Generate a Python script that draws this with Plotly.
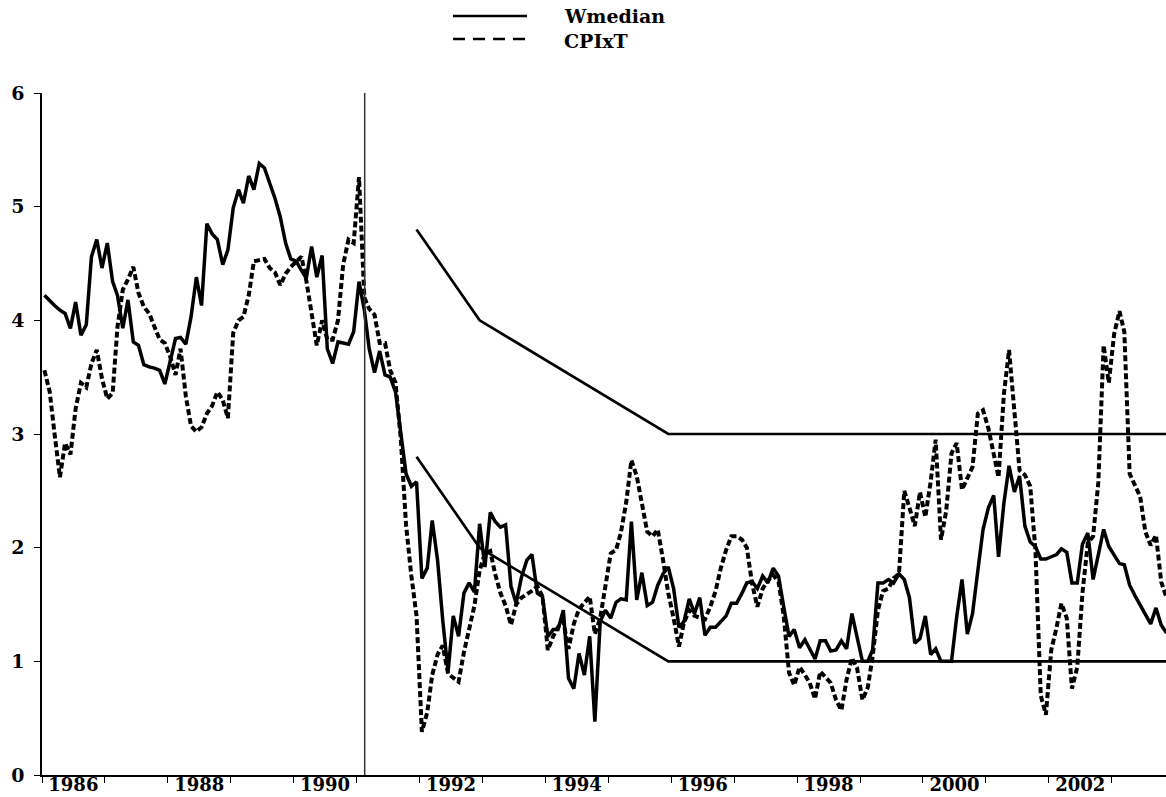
import plotly.graph_objects as go
import pandas as pd

# Monthly series, Jan 1986 onward
wmedian = [
    4.22, 4.17, 4.13, 4.09, 4.06, 3.93, 4.16, 3.87, 3.96, 4.56, 4.71, 4.46,
    4.68, 4.34, 4.22, 3.93, 4.18, 3.81, 3.78, 3.61, 3.59, 3.58, 3.56, 3.44,
    3.64, 3.84, 3.85, 3.79, 4.03, 4.38, 4.13, 4.85, 4.76, 4.71, 4.49, 4.62,
    4.99, 5.15, 5.03, 5.27, 5.15, 5.38, 5.34, 5.21, 5.07, 4.91, 4.68, 4.54,
    4.52, 4.44, 4.37, 4.65, 4.38, 4.57, 3.75, 3.62, 3.81, 3.80, 3.79, 3.90,
    4.34, 4.09, 3.75, 3.54, 3.73, 3.52, 3.50, 3.37, 3.00, 2.65, 2.54, 2.58,
    1.73, 1.82, 2.24, 1.89, 1.36, 0.91, 1.40, 1.22, 1.60, 1.69, 1.61, 2.21,
    1.83, 2.31, 2.23, 2.18, 2.20, 1.66, 1.51, 1.74, 1.89, 1.94, 1.60, 1.57,
    1.22, 1.28, 1.28, 1.45, 0.85, 0.76, 1.07, 0.88, 1.22, 0.47, 1.35, 1.45,
    1.38, 1.52, 1.55, 1.54, 2.23, 1.54, 1.78, 1.49, 1.52, 1.67, 1.77, 1.83,
    1.64, 1.30, 1.35, 1.55, 1.42, 1.56, 1.23, 1.30, 1.30, 1.35, 1.40, 1.51,
    1.51, 1.60, 1.69, 1.70, 1.64, 1.75, 1.69, 1.82, 1.75, 1.48, 1.22, 1.28,
    1.12, 1.19, 1.11, 1.02, 1.18, 1.18, 1.09, 1.10, 1.18, 1.11, 1.42, 1.20,
    1.00, 1.00, 1.10, 1.69, 1.69, 1.72, 1.69, 1.77, 1.72, 1.56, 1.16, 1.20,
    1.40, 1.06, 1.11, 1.00, 1.00, 1.00, 1.39, 1.72, 1.24, 1.42, 1.80, 2.16,
    2.35, 2.46, 1.92, 2.39, 2.72, 2.49, 2.63, 2.19, 2.05, 2.01, 1.90, 1.90,
    1.92, 1.94, 1.99, 1.96, 1.69, 1.69, 2.03, 2.13, 1.72, 1.93, 2.16, 2.01,
    1.94, 1.86, 1.85, 1.67, 1.58, 1.50, 1.41, 1.33, 1.47, 1.32, 1.25,
]

cpixt = [
    3.56, 3.37, 3.00, 2.62, 2.92, 2.82, 3.22, 3.45, 3.41, 3.62, 3.74, 3.49,
    3.31, 3.36, 3.94, 4.27, 4.36, 4.47, 4.24, 4.12, 4.06, 3.95, 3.83, 3.80,
    3.68, 3.52, 3.75, 3.33, 3.07, 3.02, 3.06, 3.18, 3.25, 3.37, 3.30, 3.14,
    3.89, 4.00, 4.03, 4.22, 4.52, 4.53, 4.54, 4.46, 4.42, 4.31, 4.41, 4.47,
    4.52, 4.56, 4.35, 4.06, 3.78, 4.00, 3.83, 3.83, 4.00, 4.49, 4.71, 4.68,
    5.26, 4.20, 4.10, 4.05, 3.80, 3.80, 3.56, 3.45, 2.95, 2.20, 1.75, 1.40,
    0.38, 0.55, 0.88, 1.06, 1.14, 0.89, 0.86, 0.82, 1.08, 1.30, 1.49, 1.80,
    1.95, 1.97, 1.77, 1.60, 1.49, 1.32, 1.50, 1.56, 1.59, 1.62, 1.66, 1.57,
    1.10, 1.22, 1.30, 1.35, 1.11, 1.33, 1.46, 1.51, 1.57, 1.24, 1.38, 1.66,
    1.95, 1.98, 2.13, 2.40, 2.77, 2.63, 2.40, 2.14, 2.10, 2.16, 1.89, 1.60,
    1.38, 1.13, 1.34, 1.45, 1.40, 1.38, 1.37, 1.48, 1.62, 1.82, 1.98, 2.10,
    2.10, 2.07, 2.00, 1.68, 1.48, 1.64, 1.71, 1.76, 1.70, 1.40, 0.90, 0.79,
    0.95, 0.88, 0.81, 0.67, 0.91, 0.86, 0.81, 0.66, 0.57, 0.84, 1.03, 0.94,
    0.66, 0.77, 1.04, 1.45, 1.62, 1.64, 1.73, 1.77, 2.50, 2.35, 2.19, 2.49,
    2.27, 2.58, 2.95, 2.07, 2.32, 2.83, 2.92, 2.51, 2.62, 2.71, 3.18, 3.21,
    3.05, 2.80, 2.62, 3.35, 3.74, 3.20, 2.68, 2.64, 2.54, 1.98, 0.70, 0.53,
    1.10, 1.30, 1.51, 1.38, 0.76, 0.95, 1.60, 2.04, 2.10, 2.57, 3.78, 3.45,
    3.88, 4.08, 3.90, 2.65, 2.56, 2.45, 2.14, 2.02, 2.11, 1.70, 1.56,
]

first_month = "1986-01-01"
dates = pd.date_range(first_month, periods=len(wmedian), freq="MS") + pd.Timedelta(days=14)

# Inflation-control target band
band_dates = ["1991-12-15", "1992-12-15", "1995-12-15", "2003-11-15"]
band_upper = [4.8, 4.0, 3.0, 3.0]
band_lower = [2.8, 2.0, 1.0, 1.0]

intro_date = "1991-02-17"

year_labels = ["1986", "1988", "1990", "1992", "1994", "1996", "1998", "2000", "2002"]
year_label_pos = [f"{y}-07-02" for y in year_labels]
y_ticks = [0, 1, 2, 3, 4, 5, 6]

X_RANGE = ["1986-01-01", "2003-11-12"]
FONT = "DejaVu Serif"

fig = go.Figure()
fig.add_trace(go.Scatter(x=band_dates, y=band_upper, mode="lines", xaxis="x2",
                         line=dict(color="black", width=2.7), showlegend=False, hoverinfo="skip"))
fig.add_trace(go.Scatter(x=band_dates, y=band_lower, mode="lines", xaxis="x2",
                         line=dict(color="black", width=2.7), showlegend=False, hoverinfo="skip"))
fig.add_trace(go.Scatter(x=dates, y=cpixt, mode="lines", name="CPIxT",
                         line=dict(color="black", width=4, dash="6px,3px")))
fig.add_trace(go.Scatter(x=dates, y=wmedian, mode="lines", name="Wmedian",
                         line=dict(color="black", width=3.5)))

fig.add_shape(type="line", xref="x", yref="paper", x0=intro_date, x1=intro_date,
              y0=0, y1=1, line=dict(color="#333333", width=1.5))

# legend drawn manually (long sample lines as in the original)
def py(Y):
    return (775 - Y) / 682.0

def px(X):
    return (X - 42) / 1124.0

fig.add_shape(type="line", xref="paper", yref="paper", x0=px(453), x1=px(527),
              y0=py(16), y1=py(16), line=dict(color="black", width=2.5))
fig.add_shape(type="line", xref="paper", yref="paper", x0=px(453), x1=px(527),
              y0=py(39), y1=py(39), line=dict(color="black", width=2.5, dash="12px,8px"))
fig.add_annotation(text="Wmedian", xref="paper", yref="paper", x=px(562), y=py(16),
                   xanchor="left", yanchor="middle", showarrow=False,
                   font=dict(family=FONT, size=19, color="black", weight="bold"))
fig.add_annotation(text="CPIxT", xref="paper", yref="paper", x=px(562), y=py(41),
                   xanchor="left", yanchor="middle", showarrow=False,
                   font=dict(family=FONT, size=19, color="black", weight="bold"))

fig.update_layout(
    width=1166, height=797,
    margin=dict(l=42, r=0, t=93, b=22, autoexpand=False),
    plot_bgcolor="white", paper_bgcolor="white",
    showlegend=False,
    xaxis=dict(
        type="date", range=X_RANGE, automargin=False,
        showline=True, linecolor="black", linewidth=1.5,
        dtick="M12", tick0="1986-01-01", ticks="outside", ticklen=6, tickwidth=1,
        tickcolor="black", showticklabels=False,
        showgrid=False, zeroline=False,
    ),
    xaxis2=dict(
        type="date", range=X_RANGE, automargin=False, overlaying="x",
        anchor="free", position=0.005, side="bottom", showline=False,
        tickvals=year_label_pos, ticktext=year_labels, ticks="",
        tickfont=dict(family=FONT, size=18, color="black", weight="bold"),
        showgrid=False, zeroline=False,
    ),
    yaxis=dict(
        range=[0, 6], tickvals=y_ticks, ticks="outside", ticklen=6, tickwidth=1,
        automargin=False,
        tickcolor="black", showline=True, linecolor="black", linewidth=1.5,
        tickfont=dict(family=FONT, size=19, color="black", weight="bold"),
        showgrid=False, zeroline=False, ticklabelstandoff=6,
    ),
)

fig.write_html(
    "out.html",
    config={"displayModeBar": False},
    post_script="document.body.style.margin='0';document.body.style.overflow='hidden';",
)
